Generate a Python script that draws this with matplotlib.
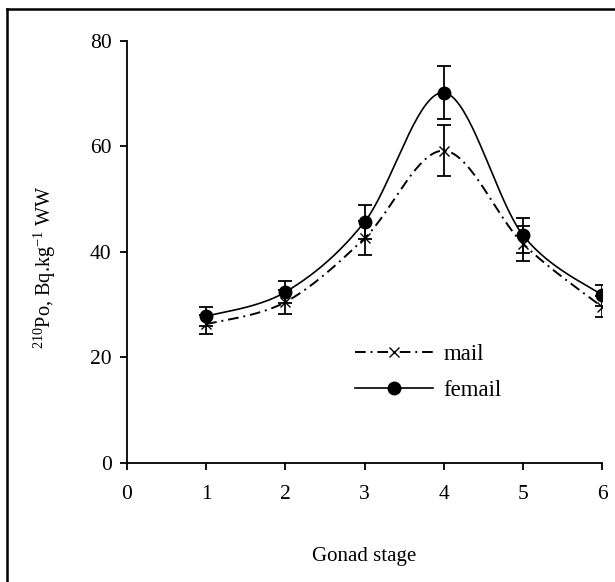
import matplotlib
matplotlib.use('Agg')
import matplotlib.pyplot as plt
from matplotlib.lines import Line2D
import numpy as np

# Values
stages = [1, 2, 3, 4, 5, 6]
male = [26.3, 30.5, 42.6, 59.2, 41.6, 29.6]
male_err = [1.8, 2.3, 3.2, 4.8, 3.3, 2.0]
female = [27.8, 32.4, 45.7, 70.2, 43.2, 31.8]
female_err = [1.8, 2.1, 3.3, 5.0, 3.3, 2.0]
labels = ['mail', 'femail']

plt.rcParams['font.family'] = ['Liberation Serif', 'DejaVu Serif']
plt.rcParams['mathtext.fontset'] = 'custom'
plt.rcParams['mathtext.rm'] = 'Liberation Serif'
plt.rcParams['mathtext.it'] = 'Liberation Serif:italic'


# Excel style smoothed line (bezier with control points from neighbours)
def smooth(xs, ys, n=40):
    p = np.column_stack([xs, ys]).astype(float)
    pts = []
    for i in range(len(p) - 1):
        p0 = p[i - 1] if i > 0 else p[i]
        p3 = p[i + 2] if i + 2 < len(p) else p[i + 1]
        c1 = p[i] + (p[i + 1] - p0) / 6
        c2 = p[i + 1] - (p3 - p[i]) / 6
        t = np.linspace(0, 1, n)[:, None]
        seg = ((1 - t) ** 3) * p[i] + 3 * ((1 - t) ** 2) * t * c1 + 3 * (1 - t) * t ** 2 * c2 + t ** 3 * p[i + 1]
        pts.append(seg)
    pts = np.vstack(pts)
    return pts[:, 0], pts[:, 1]


fig = plt.figure(figsize=(6.15, 5.82), dpi=100)
ax = fig.add_axes([0.2065, 0.2045, 0.7725, 0.7251])

male_ls = (0, (5.5, 2.5, 1, 2.5))

sx, sy = smooth(stages, male)
ax.plot(sx, sy, color='black', lw=1.4, ls=male_ls)
sx, sy = smooth(stages, female)
ax.plot(sx, sy, color='black', lw=1.2, ls='-')

ax.errorbar(stages, male, yerr=male_err, fmt='none', ecolor='black', elinewidth=1.3, capsize=5, capthick=1.3)
ax.errorbar(stages, female, yerr=female_err, fmt='none', ecolor='black', elinewidth=1.3, capsize=5, capthick=1.3)

ax.plot(stages, male, ls='none', marker='x', ms=7.5, mew=1.0, color='black', zorder=4)
ax.plot(stages, female, ls='none', marker='o', ms=9, color='black', zorder=4)

ax.set_xlim(0, 6)
ax.set_ylim(0, 80)
ax.set_xticks(range(0, 7))
ax.set_yticks(range(0, 81, 20))
ax.spines['top'].set_visible(False)
ax.spines['right'].set_visible(False)
for s in ['left', 'bottom']:
    ax.spines[s].set_linewidth(1.3)
    ax.spines[s].set_clip_on(False)
ax.tick_params(axis='both', direction='out', length=5, width=1.3, labelsize=15.5, colors='black')
ax.tick_params(axis='x', pad=11)
ax.tick_params(axis='y', pad=6)

fig.text(0.592, 0.043, 'Gonad stage', ha='center', va='center', fontsize=15)
fig.text(0.073, 0.54, r'$^{210}$Po, Bq.kg$^{-1}$ WW', rotation=90, ha='center', va='center', fontsize=14.6)

handles = [
    Line2D([], [], color='black', lw=1.4, ls=male_ls, marker='x', ms=7.5, mew=1.0),
    Line2D([], [], color='black', lw=1.2, ls='-', marker='o', ms=9),
]
ax.legend(handles, labels, loc='upper left', bbox_to_anchor=(0.48, 0.283), frameon=False,
          fontsize=16.5, handlelength=3.4, handletextpad=0.45, labelspacing=0.66,
          borderpad=0, borderaxespad=0)

# outer frame (only left and top edges visible in the picture)
fig.add_artist(Line2D([0.011, 0.011], [0.0, 0.984], color='black', lw=1.8, transform=fig.transFigure))
fig.add_artist(Line2D([0.011, 1.0], [0.984, 0.984], color='black', lw=1.8, transform=fig.transFigure))

fig.savefig('out.png', dpi=100)
